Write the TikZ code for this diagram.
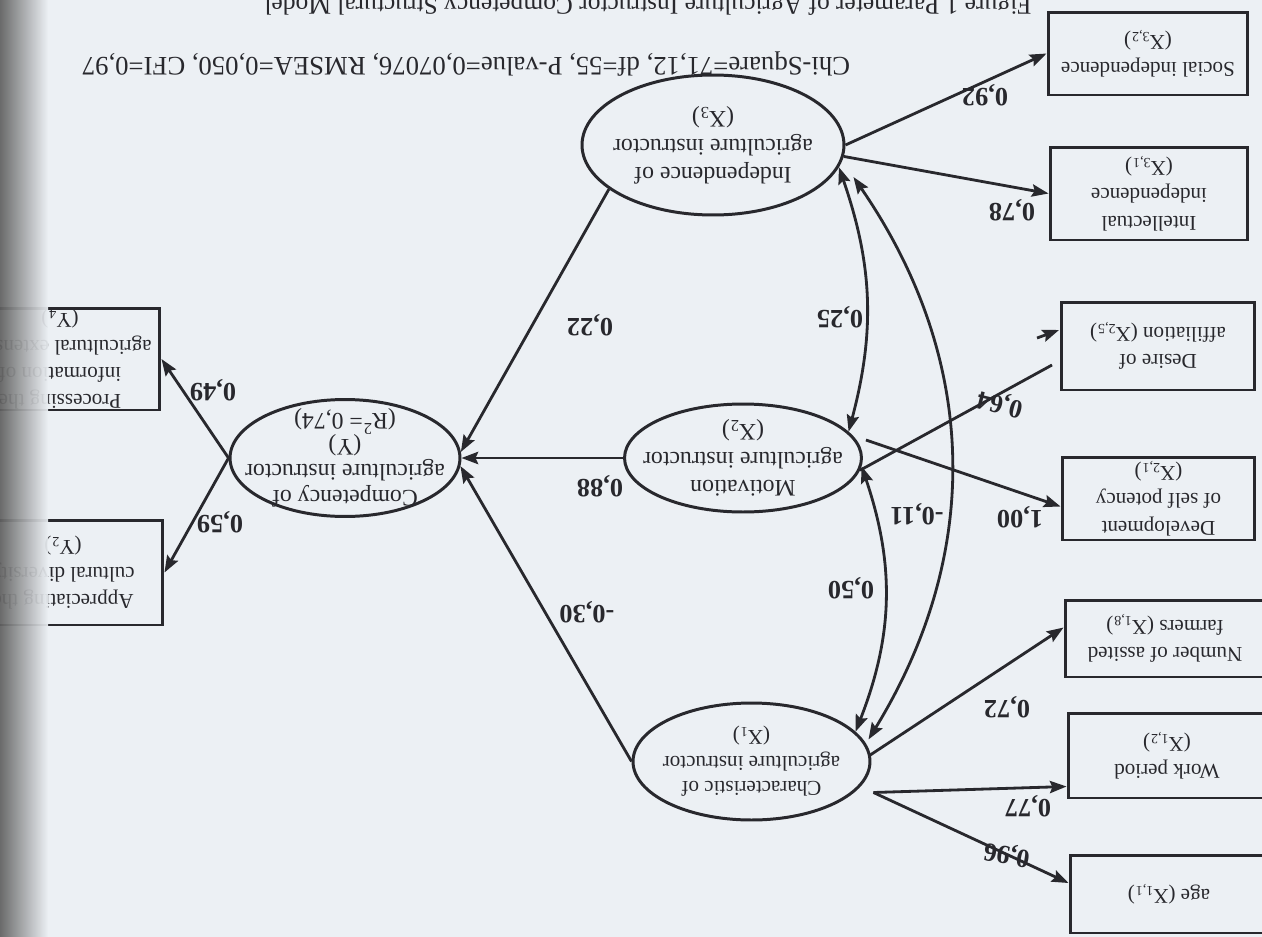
\documentclass[tikz,border=0pt]{standalone}
\usepackage{fontspec}
\setmainfont{Liberation Serif}
\usetikzlibrary{arrows,arrows.meta,calc,shapes.geometric}

\definecolor{paper}{RGB}{236,240,244}
\definecolor{ink}{RGB}{40,40,45}

\tikzset{
  latent/.style={ellipse, draw=ink, line width=1.7pt, inner sep=0pt},
  manifest/.style={rectangle, draw=ink, line width=1.7pt, inner sep=0pt},
  flip/.style={rotate=180, align=center, inner sep=0pt, text=ink},
  lattext/.style={flip, font=\fontsize{13.5}{16}\selectfont},
  mantext/.style={flip, font=\fontsize{12}{15.5}\selectfont},
  coef/.style={flip, font=\fontsize{15}{15}\selectfont\bfseries},
  loading/.style={->, draw=ink, line width=1.6pt},
  covar/.style={<->, draw=ink, line width=1.6pt}
}

\begin{document}
\begin{tikzpicture}[x=0.02cm, y=-0.02cm, >={Stealth[length=9.5pt,width=7pt,inset=1.5pt]}]
			\fill[paper] (0,0) rectangle (1262,937);
			\useasboundingbox (0,0) rectangle (1262,937);
			\clip (0,0) rectangle (1262,937);

			% latent variables
			\node (X3) [latent, minimum width=5.24cm, minimum height=2.8cm] at (713,145) {};
			\node (X3t) [lattext] at (X3) {Independence of\\agriculture instructor\\(X\textsubscript{3})};
			\node (X2) [latent, minimum width=4.74cm, minimum height=2.16cm] at (743,458) {};
			\node (X2t) [lattext] at (X2) {Motivation\\agriculture instructor\\(X\textsubscript{2})};
			\node (X1) [latent, minimum width=4.74cm, minimum height=2.34cm] at (751.5,761.5) {};
			\node (X1t) [lattext, font=\fontsize{12}{14.5}\selectfont] at (X1) {Characteristic of\\agriculture instructor\\(X\textsubscript{1})};
			\node (Y) [latent, minimum width=4.6cm, minimum height=2.34cm] at (345,458) {};
			\node (Yt) [lattext, font=\fontsize{13.5}{14.5}\selectfont] at (Y) {Competency of\\agriculture instructor\\(Y)\\(R\textsuperscript{2}= 0,74)};

			% indicators
			\node (X32) [manifest, minimum width=4cm, minimum height=1.66cm] at (1148,53.5) {};
			\node (X32t) [mantext] at (X32) {Social independence\\(X\textsubscript{3,2})};
			\node (X31) [manifest, minimum width=3.96cm, minimum height=1.86cm] at (1149,193.5) {};
			\node (X31t) [mantext] at (X31) {Intellectual\\independence\\(X\textsubscript{3,1})};
			\node (X25) [manifest, minimum width=3.86cm, minimum height=1.76cm] at (1158,346) {};
			\node (X25t) [mantext] at (X25) {Desire of\\affiliation (X\textsubscript{2,5})};
			\node (X21) [manifest, minimum width=3.86cm, minimum height=1.66cm] at (1158.5,498.5) {};
			\node (X21t) [mantext] at (X21) {Development\\of self potency\\(X\textsubscript{2,1})};
			\node (X18) [manifest, minimum width=4cm, minimum height=1.54cm] at (1165,638.5) {};
			\node (X18t) [mantext] at (X18) {Number of assited\\farmers (X\textsubscript{1,8})};
			\node (X12) [manifest, minimum width=3.96cm, minimum height=1.7cm] at (1167,755.5) {};
			\node (X12t) [mantext] at (X12) {Work period\\(X\textsubscript{1,2})};
			\node (X11) [manifest, minimum width=3.96cm, minimum height=1.56cm] at (1169,894) {};
			\node (X11t) [mantext] at (X11) {age (X\textsubscript{1,1})};
			\node (Y4) [manifest, minimum width=4cm, minimum height=2.04cm] at (60,359) {};
			\node (Y4t) [mantext] at (Y4) {Processing the\\information of\\agricultural extension\\(Y\textsubscript{4})};
			\node (Y2) [manifest, minimum width=4cm, minimum height=2.1cm] at (63,572.5) {};
			\node (Y2t) [mantext] at (Y2) {Appreciating the\\cultural diversity\\(Y\textsubscript{2})};

			% loadings
			\draw[loading] (X3.east) -- (X32.west);
			\draw[loading] (X3.-5) -- (X31.west);
			\coordinate (tail25) at ($(X25.west)+(-8,19)$);
			\draw[draw=ink, line width=1.6pt] (X2.-6) -- (tail25);
			\draw[loading] ($(X25.west)+(-23,-8)$) -- ($(X25.west)+(-1,-16)$);
			\draw[loading] ($(X2.east)+(3,-18)$) -- ($(X21.west)+(0,8)$);
			\coordinate (x1out) at ($(X1.east)+(2,31)$);
			\draw[loading] ($(X1.east)+(-2,-6)$) -- ($(X18.west)+(0,-11)$);
			\draw[loading] (x1out) -- ($(X12.west)+(0,31)$);
			\draw[loading] (x1out) -- ($(X11.west)+(0,-11)$);
			\draw[loading] (Y.west) -- (Y4.east);
			\draw[loading] (Y.west) -- (Y2.east);

			% structural paths
			\draw[loading] (X3.203) -- (Y.3);
			\draw[loading] (X2.west) -- (Y.east);
			\draw[loading] (X1.west) -- (Y.-4);

			% correlations
			\draw[covar] (X3.-10) to[bend left=17] (X2.14);
			\draw[covar] (X2.-4) to[bend left=20] (X1.16);
			\draw[covar] ($(X3.east)+(8,32)$) to[bend left=33] ($(X1.east)+(-3,-22)$);

			% coefficients
			\node (c92) [coef] at (985,95) {0,92};
			\node (c78) [coef] at (1012,210) {0,78};
			\node (c64) [coef, rotate=-14] at (1000,403) {0,64};
			\node (c100) [coef] at (1020,517) {1,00};
			\node (c72) [coef] at (1007,707) {0,72};
			\node (c77) [coef] at (1028,806) {0,77};
			\node (c96) [coef, rotate=-10] at (1007,854) {0,96};
			\node (c25) [coef] at (840,317) {0,25};
			\node (c11) [coef] at (917,514) {-0,11};
			\node (c50) [coef] at (851,588) {0,50};
			\node (c22) [coef] at (590,325) {0,22};
			\node (c88) [coef] at (600,486) {0,88};
			\node (c30) [coef] at (587,612) {-0,30};
			\node (c49) [coef] at (213,390) {0,49};
			\node (c59) [coef] at (220,522) {0,59};

			% fit indices and caption
			\node (fit) [flip, font=\fontsize{15.2}{15.2}\selectfont] at (466,64) {Chi-Square=71,12, df=55, P-value=0,07076, RMSEA=0,050, CFI=0,97};
			\node (cap) [flip, font=\fontsize{14.5}{14.5}\selectfont] at (648,4) {Figure 1 Parameter of Agriculture Instructor Competency Structural Model};

			% scan shadow
			\shade[left color=black!62, right color=paper, opacity=0.93] (0,0) rectangle (48,937);
		\end{tikzpicture}
\end{document}
